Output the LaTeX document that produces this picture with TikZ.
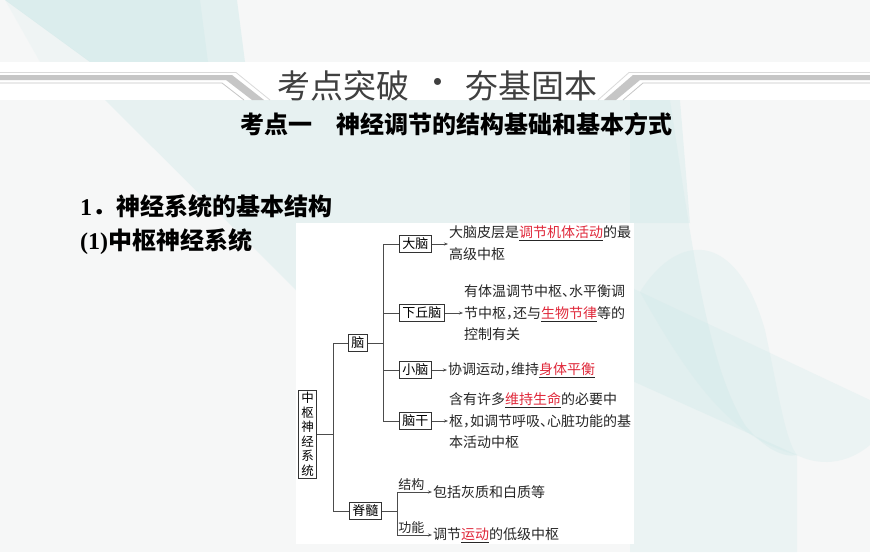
\documentclass[tikz,border=0pt]{standalone}
\usepackage{fontspec}
\setmainfont{Liberation Serif}
\newfontfamily\cjk{Noto Sans CJK SC}
\newfontfamily\cjkd{Noto Sans CJK SC}[RawFeature=+halt]
\usetikzlibrary{arrows.meta}
\definecolor{bgbase}{HTML}{F6F7F7}
\definecolor{tealbg}{HTML}{CDE8E8}
\definecolor{hired}{HTML}{E0283A}
\definecolor{stripe}{HTML}{C6C6C6}
\definecolor{stripel}{HTML}{DADADA}
\newcommand{\hlred}[1]{\underline{\textcolor{hired}{#1}}}
\tikzset{
  ln/.style={draw=black!70, line width=0.6pt},
  ar/.style={ln, -{Stealth[length=4pt,width=3pt]}, shorten >=1pt},
  bx/.style={draw=black!80, line width=0.6pt, font=\cjk\fontsize{13}{13}\selectfont,
    inner xsep=3pt, inner ysep=0pt, minimum height=17pt, text height=10.5pt, text depth=1.5pt},
  txt/.style={font=\cjkd\fontsize{14}{21.5}\selectfont, text=black!85, inner sep=0pt,
    align=left, anchor=west},
  lbl/.style={font=\cjk\fontsize{13}{13}\selectfont, text=black!85, inner sep=1pt},
  tealshape/.style={fill=tealbg, fill opacity=0.45, draw=none},
}
\begin{document}
\begin{tikzpicture}[x=1pt,y=-1pt]
\useasboundingbox (0,0) rectangle (870,552);
% background
\fill[bgbase] (0,0) rectangle (870,552);
\fill[tealshape] (5,0) -- (237,0) -- (245,62) -- (90,62) -- cycle;
\fill[tealshape, fill opacity=0.35] (5,0) -- (200,0) -- (208,62) -- (90,62) -- cycle;
\fill[tealshape, fill opacity=0.15] (5,0) -- (90,62) -- (40,62) -- cycle;
\fill[tealshape, fill opacity=0.35] (105,100) -- (680,100) -- (690,223) -- (296,223) -- (296,290) -- cycle;
\fill[tealshape, fill opacity=0.25] (630,287) -- (870,400) -- (870,445) .. controls (840,470) and (810,462) .. (797,455) -- (797,552) -- (630,552) -- cycle;
\fill[tealshape, fill opacity=0.3] (630,100) -- (670,100) .. controls (690,230) and (705,360) .. (745,425) .. controls (765,450) and (785,458) .. (797,455) -- (630,380) -- cycle;
\fill[tealshape, fill opacity=0.25] (640,292) .. controls (675,235) and (735,225) .. (765,330) .. controls (778,390) and (785,440) .. (797,455) .. controls (740,440) and (700,400) .. (640,292) -- cycle;
% header band
\fill[white] (0,62) rectangle (870,100);
\fill[stripe] (0,75) -- (232,75) -- (264,100) -- (252,100) -- (226,80) -- (0,80) -- cycle;
\draw[stripel, line width=0.8pt] (0,72.5) -- (236,72.5) -- (270,100);
\draw[stripe, line width=0.8pt] (0,83) -- (222,83) -- (244,100);
\fill[stripe] (604,100) -- (633,75) -- (870,75) -- (870,80) -- (640,80) -- (616,100) -- cycle;
\draw[stripel, line width=0.8pt] (598,100) -- (629,72.5) -- (870,72.5);
\draw[stripe, line width=0.8pt] (623,100) -- (643,83) -- (870,83);
\node[font=\cjk\fontsize{33}{33}\selectfont, text=black!75, inner sep=0pt, anchor=east] (tl) at (410,86) {考点突破};
\node[font=\cjk\fontsize{33}{33}\selectfont, text=black!75, inner sep=0pt] (tdot) at (438,86) {·};
\node[font=\cjk\fontsize{33}{33}\selectfont, text=black!75, inner sep=0pt, anchor=west] (tr) at (465,86) {夯基固本};
\node[font=\cjk\bfseries\fontsize{24}{24}\selectfont, inner sep=0pt, anchor=west] (sub) at (240,124) {考点一　神经调节的结构基础和基本方式};
\node[font=\bfseries\fontsize{24}{24}\selectfont, inner sep=0pt, anchor=west] (h1) at (80,206) {1{\cjk ．神经系统的基本结构}};
\node[font=\bfseries\fontsize{24}{24}\selectfont, inner sep=0pt, anchor=west] (h2) at (80,242) {(1){\cjk 中枢神经系统}};
% diagram panel
\fill[white] (296,223) rectangle (634,544);
\coordinate (k1) at (333,0);
\coordinate (k2) at (383,0);
\coordinate (k3) at (397,0);
\node[draw=black!80, line width=0.6pt, font=\cjk\fontsize{12.5}{14.5}\selectfont, align=center, inner xsep=3pt, inner ysep=2pt] (zs) at (307.5,434) {中\\枢\\神\\经\\系\\统};
\node[bx, anchor=west] (nao) at (348,343) {脑};
\node[bx, anchor=west] (js) at (349,511) {脊髓};
\node[bx, anchor=west] (dn) at (399,244) {大脑};
\node[bx, anchor=west] (xqn) at (399,313) {下丘脑};
\node[bx, anchor=west] (xn) at (399,370) {小脑};
\node[bx, anchor=west] (ng) at (399,421) {脑干};
\node[txt] (tdn) at (449,243) {大脑皮层是\hlred{调节机体活动}的最\\高级中枢};
\node[txt] (txqn) at (464,313) {有体温调节中枢、水平衡调\\节中枢，还与\hlred{生物节律}等的\\控制有关};
\node[txt] (txn) at (448,370) {协调运动，维持\hlred{身体平衡}};
\node[txt] (tng) at (449,421) {含有许多\hlred{维持生命}的必要中\\枢，如调节呼吸、心脏功能的基\\本活动中枢};
\node[txt] (tjg) at (433,492) {包括灰质和白质等};
\node[txt] (tgn) at (433,535) {调节\hlred{运动}的低级中枢};
% connectors
\draw[ln] (zs.east) -- (zs.east -| k1);
\draw[ln] (nao.west) -- (nao.west -| k1) -- (js.west -| k1) -- (js.west);
\draw[ln] (nao.east) -- (nao.east -| k2);
\draw[ln] (dn.west) -- (dn.west -| k2) -- (ng.west -| k2) -- (ng.west);
\draw[ln] (xqn.west) -- (xqn.west -| k2);
\draw[ln] (xn.west) -- (xn.west -| k2);
\draw[ar] (dn.east) -- (tdn.west |- dn.east);
\draw[ar] (xqn.east) -- (txqn.west |- xqn.east);
\draw[ar] (xn.east) -- (txn.west |- xn.east);
\draw[ar] (ng.east) -- (tng.west |- ng.east);
\draw[ln] (js.east) -- (js.east -| k3);
\draw[ln] (tjg.west -| k3) -- (tgn.west -| k3);
\draw[ar] (tjg.west -| k3) -- node[lbl, anchor=south west, pos=0] (ljg) {结构} (tjg.west);
\draw[ar] (tgn.west -| k3) -- node[lbl, anchor=south west, pos=0] (lgn) {功能} (tgn.west);
\end{tikzpicture}
\end{document}
